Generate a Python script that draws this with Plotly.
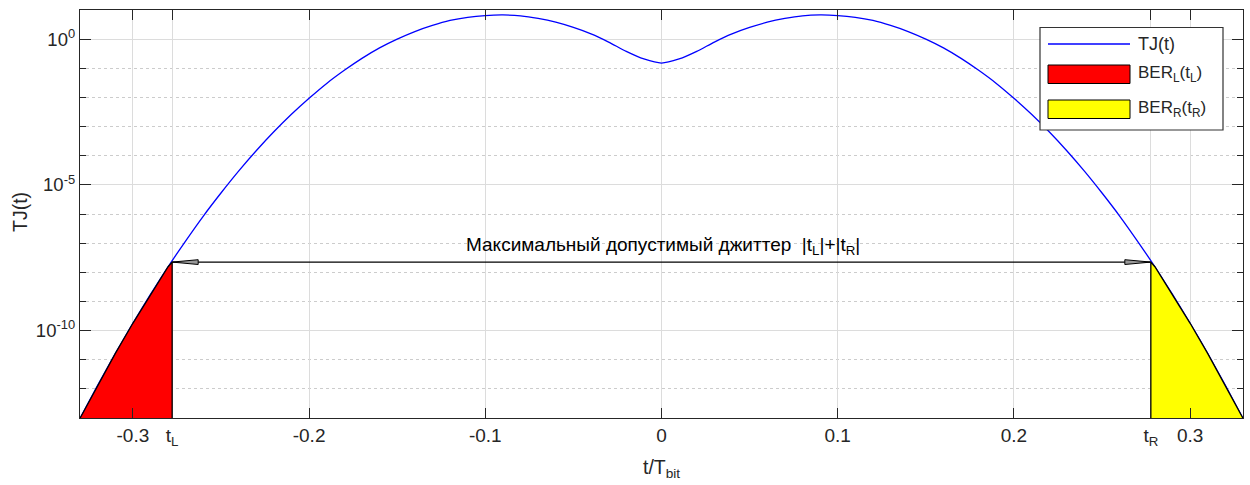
import plotly.graph_objects as go

# ---------------- data ----------------
t_vals = [-0.33, -0.32, -0.31, -0.30, -0.29, -0.28, -0.27, -0.26, -0.25, -0.24,
          -0.23, -0.22, -0.21, -0.20, -0.19, -0.18, -0.17, -0.16, -0.15, -0.14,
          -0.13, -0.12, -0.11, -0.10, -0.09, -0.08, -0.07, -0.06, -0.05, -0.04,
          -0.03, -0.02, -0.01, 0.00, 0.01, 0.02, 0.03, 0.04, 0.05, 0.06,
          0.07, 0.08, 0.09, 0.10, 0.11, 0.12, 0.13, 0.14, 0.15, 0.16,
          0.17, 0.18, 0.19, 0.20, 0.21, 0.22, 0.23, 0.24, 0.25, 0.26,
          0.27, 0.28, 0.29, 0.30, 0.31, 0.32, 0.33]
# log10 of TJ(t)
tj_log10 = [-13.01, -11.88, -10.79, -9.75, -8.76, -7.81, -6.92, -6.07, -5.28, -4.53,
            -3.83, -3.18, -2.58, -2.03, -1.52, -1.07, -0.66, -0.30, 0.00, 0.26,
            0.47, 0.64, 0.75, 0.81, 0.83, 0.80, 0.71, 0.58, 0.40, 0.18,
            -0.10, -0.42, -0.68, -0.82, -0.68, -0.42, -0.10, 0.18, 0.40, 0.58,
            0.71, 0.80, 0.83, 0.81, 0.75, 0.64, 0.47, 0.26, 0.00, -0.30,
            -0.66, -1.07, -1.52, -2.03, -2.58, -3.18, -3.83, -4.53, -5.28, -6.07,
            -6.92, -7.81, -8.76, -9.75, -10.79, -11.88, -13.01]

t_L = -0.2777
t_R = 0.2777
edge_log10 = -7.65          # TJ(t_L) = TJ(t_R)
y_floor = 1e-13
y_top = 1e1

x_tickvals = [-0.3, t_L, -0.2, -0.1, 0.0, 0.1, 0.2, t_R, 0.3]
x_ticktext = ["-0.3", "t<sub>L</sub>", "-0.2", "-0.1", "0", "0.1", "0.2",
              "t<sub>R</sub>", "0.3"]
y_tickvals = [1e0, 1e-5, 1e-10]
y_ticktext = ["10<sup>0</sup>", "10<sup>-5</sup>", "10<sup>-10</sup>"]
y_minorvals = [1e-12, 1e-11, 1e-9, 1e-8, 1e-7, 1e-6, 1e-4, 1e-3, 1e-2, 1e-1]

legend_labels = ["TJ(t)", "BER<sub>L</sub>(t<sub>L</sub>)", "BER<sub>R</sub>(t<sub>R</sub>)"]
jitter_label = "Максимальный допустимый джиттер  |t<sub>L</sub>|+|t<sub>R</sub>|"

# ---------------- styling ----------------
FONT = "Liberation Sans, Arial, sans-serif"
TXT = "#262626"
W, H = 1250, 485
ML, MR, MT, MB = 80, 7, 10, 67
PW, PH = W - ML - MR, H - MT - MB


def px(x):
    return (x - ML) / PW


def py(y):
    return (H - MB - y) / PH


tj = [10 ** v for v in tj_log10]
edge = 10 ** edge_log10

fig = go.Figure()

fig.add_trace(go.Scatter(x=t_vals, y=tj, mode="lines",
                         line=dict(color="#0000ff", width=1.3, shape="spline", smoothing=0.6),
                         showlegend=False, hoverinfo="skip"))

left_x = [t for t in t_vals if t <= t_L] + [t_L, t_L]
left_y = [v for t, v in zip(t_vals, tj) if t <= t_L] + [edge, y_floor]
fig.add_trace(go.Scatter(x=left_x, y=left_y, mode="lines", fill="toself",
                         fillcolor="#ff0000", line=dict(color="#000000", width=1.3),
                         showlegend=False, hoverinfo="skip"))

right_x = [t_R, t_R] + [t for t in t_vals if t >= t_R]
right_y = [y_floor, edge] + [v for t, v in zip(t_vals, tj) if t >= t_R]
fig.add_trace(go.Scatter(x=right_x, y=right_y, mode="lines", fill="toself",
                         fillcolor="#ffff00", line=dict(color="#000000", width=1.3),
                         showlegend=False, hoverinfo="skip"))

fig.add_trace(go.Scatter(x=[t_L, t_R], y=[edge, edge], mode="lines",
                         line=dict(color="#000000", width=1.2),
                         showlegend=False, hoverinfo="skip"))

shapes = []
# arrow heads (pixel sized, anchored at the arrow ends)
for anchor, sgn in ((t_L, 1), (t_R, -1)):
    shapes.append(dict(type="path", xref="x", yref="y", xsizemode="pixel", ysizemode="pixel",
                       xanchor=anchor, yanchor=edge,
                       path=f"M0,0 L{sgn*26},2.4 L{sgn*26},-2.4 Z",
                       fillcolor="#999999", line=dict(color="#000000", width=1), layer="above"))

# custom legend
shapes.append(dict(type="rect", xref="paper", yref="paper",
                   x0=px(1040), x1=px(1223), y0=py(27.5), y1=py(130),
                   fillcolor="#ffffff", line=dict(color="#333333", width=1.2), layer="above"))
shapes.append(dict(type="line", xref="paper", yref="paper",
                   x0=px(1048), x1=px(1130), y0=py(44), y1=py(44),
                   line=dict(color="#0000ff", width=1.3), layer="above"))
shapes.append(dict(type="rect", xref="paper", yref="paper",
                   x0=px(1048), x1=px(1130), y0=py(65), y1=py(83.5),
                   fillcolor="#ff0000", line=dict(color="#000000", width=1), layer="above"))
shapes.append(dict(type="rect", xref="paper", yref="paper",
                   x0=px(1048), x1=px(1130), y0=py(100), y1=py(118.5),
                   fillcolor="#ffff00", line=dict(color="#000000", width=1), layer="above"))

annotations = []
for lab, yc, fs in zip(legend_labels, (44, 74, 109), (18, 17, 17)):
    annotations.append(dict(xref="paper", yref="paper", x=px(1136), y=py(yc),
                            xanchor="left", yanchor="middle", text=lab, showarrow=False,
                            font=dict(family=FONT, size=fs, color=TXT)))

annotations.append(dict(xref="x", yref="y", x=0.001, y=edge_log10, xanchor="center",
                        yanchor="bottom", yshift=2, text=jitter_label, showarrow=False,
                        font=dict(family=FONT, size=19, color="#000000")))

annotations.append(dict(xref="paper", yref="paper", x=px(20), y=py(212), xanchor="center",
                        yanchor="middle", text="TJ(t)", textangle=-90, showarrow=False,
                        font=dict(family=FONT, size=19.5, color=TXT)))
annotations.append(dict(xref="paper", yref="paper", x=px(661), y=py(468), xanchor="center",
                        yanchor="middle", text="t/T<sub>bit</sub>", showarrow=False,
                        font=dict(family=FONT, size=19.5, color=TXT)))

fig.update_layout(
    width=W, height=H,
    margin=dict(l=ML, r=MR, t=MT, b=MB, autoexpand=False),
    paper_bgcolor="#ffffff", plot_bgcolor="#ffffff",
    font=dict(family=FONT, size=19, color=TXT),
    shapes=shapes, annotations=annotations,
    showlegend=False,
)
fig.update_xaxes(range=[-0.33, 0.33], tickmode="array", tickvals=x_tickvals, ticktext=x_ticktext,
                 ticks="inside", ticklen=10, tickwidth=1.2, tickcolor=TXT, automargin=False,
                 showline=True, linecolor=TXT, linewidth=1.3, mirror="ticks",
                 showgrid=True, gridcolor="#dcdcdc", gridwidth=1, zeroline=False,
                 tickfont=dict(family=FONT, size=19, color=TXT))
fig.update_yaxes(type="log", range=[-13, 1], tickmode="array", tickvals=y_tickvals,
                 ticktext=y_ticktext, ticks="inside", ticklen=11, tickwidth=1.2, tickcolor=TXT,
                 showline=True, linecolor=TXT, linewidth=1.3, mirror="ticks", automargin=False,
                 showgrid=True, gridcolor="#dcdcdc", gridwidth=1, zeroline=False,
                 tickfont=dict(family=FONT, size=18.5, color=TXT),
                 minor=dict(tickmode="array", tickvals=y_minorvals, ticks="inside", ticklen=6,
                            tickcolor=TXT, showgrid=True, gridcolor="#cccccc", griddash="dot",
                            gridwidth=1))

fig.write_html("out.html", config={"displayModeBar": False},
               post_script="document.body.style.margin='0';")
